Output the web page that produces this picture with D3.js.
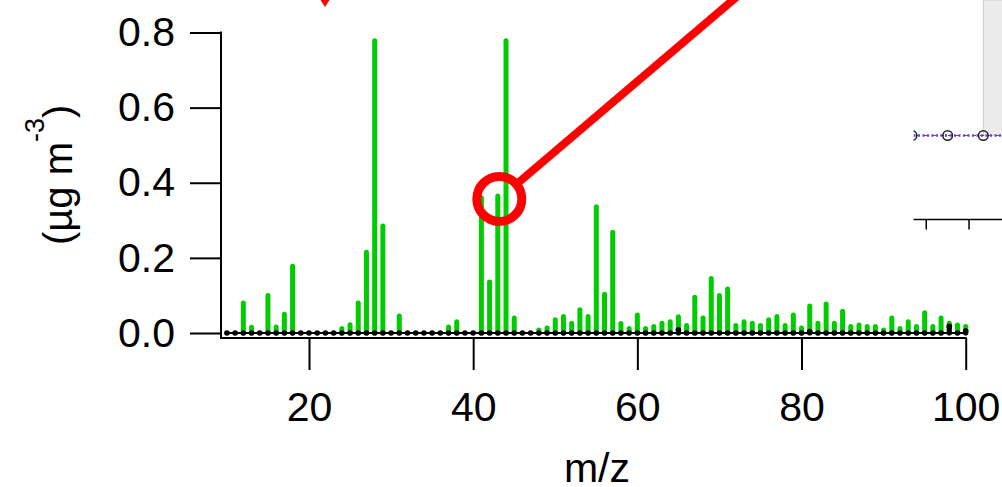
<!DOCTYPE html>
<html>
<head>
<meta charset="utf-8">
<script src="https://cdn.jsdelivr.net/npm/d3@7"></script>
<style>
  html, body { margin: 0; padding: 0; background: #fff; }
  svg { display: block; }
  text { font-family: "Liberation Sans", Arial, sans-serif; fill: #000; }
</style>
</head>
<body>
<svg id="chart" width="1002" height="487"></svg>
<script>
// m/z categories 10..100
const mz = [10,11,12,13,14,15,16,17,18,19,20,21,22,23,24,25,26,27,28,29,30,31,32,33,34,35,36,37,38,39,40,41,42,43,44,45,46,47,48,49,50,51,52,53,54,55,56,57,58,59,60,61,62,63,64,65,66,67,68,69,70,71,72,73,74,75,76,77,78,79,80,81,82,83,84,85,86,87,88,89,90,91,92,93,94,95,96,97,98,99,100];
// green spectrum (µg m-3)
const greenValues = [0,0,0.08,0.015,0,0.10,0.016,0.05,0.178,0,0,0,0,0,0.012,0.022,0.08,0.215,0.778,0.285,0,0.045,0,0,0,0,0,0.016,0.03,0,0,0.36,0.136,0.365,0.778,0.04,0,0,0.008,0.013,0.035,0.044,0.026,0.062,0.044,0.336,0.103,0.268,0.025,0.012,0.048,0.012,0.017,0.026,0.03,0.043,0.02,0.095,0.04,0.145,0.1,0.117,0.02,0.03,0.026,0.02,0.035,0.044,0.02,0.048,0.013,0.072,0.026,0.077,0.026,0.058,0.017,0.021,0.017,0.017,0.008,0.04,0.012,0.03,0.017,0.054,0.017,0.04,0.026,0.021,0.017];
// black spectrum (near zero)
const blackValues = [0,0,0,0,0,0,0,0,0,0,0,0,0,0,0,0,0,0,0,0,0,0,0,0,0,0,0,0,0,0,0,0,0,0,0,0,0,0,0,0,0,0,0,0,0,0,0,0,0,0,0,0,0,0,0,0.008,0,0,0,0,0,0,0,0,0,0,0,0,0,0,0,0.004,0,0,0,0,0,0,0,0,0,0,0,0,0,0,0,0,0.018,0,0.005];
const xTicks = [20,40,60,80,100];
const yTicks = [0,0.2,0.4,0.6,0.8];
// highlighted point (m/z 43)
const highlight = {mz: 43, value: 0.365};
// partial inset on the right edge
const insetIdx = [0,1,2];
const insetVals = [0,0,0];
const insetTicks = [0.4,1.6];

const svg = d3.select("#chart");
const FS = 41;

const x = d3.scaleLinear().domain([20,100]).range([309,965.7]);
const y = d3.scaleLinear().domain([0,0.8]).range([333,32.5]);

// green sticks
svg.append("g").selectAll("line").data(mz.map((m,i)=>({m, v: greenValues[i]})).filter(d=>d.v>0))
  .join("line")
  .attr("x1", d=>x(d.m)).attr("x2", d=>x(d.m))
  .attr("y1", y(0)).attr("y2", d=>y(d.v))
  .attr("stroke", "#00cc00").attr("stroke-width", 5).attr("stroke-linecap", "round");

// black series baseline + sticks + markers
svg.append("path")
  .attr("d", d3.line().x(d=>x(d)).y(y(0))(mz))
  .attr("stroke", "#000").attr("stroke-width", 2).attr("fill", "none");
svg.append("g").selectAll("line").data(mz.map((m,i)=>({m, v: blackValues[i]})).filter(d=>d.v>0))
  .join("line")
  .attr("x1", d=>x(d.m)).attr("x2", d=>x(d.m))
  .attr("y1", y(0)).attr("y2", d=>y(d.v))
  .attr("stroke", "#000").attr("stroke-width", 5).attr("stroke-linecap", "round");
svg.append("g").selectAll("circle").data(mz.map((m,i)=>({m, v: blackValues[i]})))
  .join("circle")
  .attr("cx", d=>x(d.m)).attr("cy", d=>y(d.v)).attr("r", 2.8).attr("fill", "#000");

// axes
const yAxis = svg.append("g").attr("transform", "translate(221,0)")
  .call(d3.axisLeft(y).tickValues(yTicks).tickSize(31).tickPadding(15).tickSizeOuter(0).tickFormat(d3.format(".1f")));
yAxis.select(".domain").remove();
yAxis.selectAll("line").attr("stroke", "#000").attr("stroke-width", 2);
yAxis.selectAll("text").attr("font-size", FS).attr("font-family", "Liberation Sans, Arial, sans-serif");

svg.append("line").attr("x1", 221).attr("x2", 221).attr("y1", y(0.8)-1).attr("y2", 339)
  .attr("stroke", "#000").attr("stroke-width", 2);

const xAxis = svg.append("g").attr("transform", "translate(0,338)")
  .call(d3.axisBottom(x).tickValues(xTicks).tickSize(32).tickPadding(22).tickSizeOuter(0));
xAxis.select(".domain").remove();
xAxis.selectAll("line").attr("stroke", "#000").attr("stroke-width", 2);
xAxis.selectAll("text").attr("font-size", FS).attr("font-family", "Liberation Sans, Arial, sans-serif");
svg.append("line").attr("x1", 220).attr("x2", x(100)+1).attr("y1", 338).attr("y2", 338)
  .attr("stroke", "#000").attr("stroke-width", 2);

// axis titles
svg.append("text").attr("x", 597).attr("y", 482).attr("text-anchor", "middle")
  .attr("font-size", FS).text("m/z");
const yl = svg.append("text").attr("transform", "translate(72,245) rotate(-90)")
  .attr("font-size", 40);
yl.append("tspan").text("(µg m");
yl.append("tspan").attr("font-size", 27).attr("dy", -28).text("-3");
yl.append("tspan").attr("dy", 28).text(")");

// red annotation: circle at highlighted point and a line leaving it
const cx = x(highlight.mz) + 1.5, cy = y(highlight.value) + 3;
const R = 22.5;
const tx = 733, ty = 0;
const ang = Math.atan2(ty - cy, tx - cx);
svg.append("line")
  .attr("x1", cx + R*Math.cos(ang)).attr("y1", cy + R*Math.sin(ang))
  .attr("x2", tx + 8*Math.cos(ang)).attr("y2", ty + 8*Math.sin(ang))
  .attr("stroke", "#ff0000").attr("stroke-width", 8);
svg.append("circle").attr("cx", cx).attr("cy", cy).attr("r", R)
  .attr("fill", "none").attr("stroke", "#ff0000").attr("stroke-width", 9);
// red arrow tip at top
svg.append("path").attr("d", "M320.5,0 L329.5,0 L325,7 Z").attr("fill", "#ff0000");

// partial inset at right edge
const ix = d3.scaleLinear().domain([0,2]).range([912,983.3]);
const iy = d3.scaleLinear().domain([0,1]).range([135.5,0]);
const itx = d3.scaleLinear().domain([0,2]).range([912,983.3]);
svg.append("defs").append("clipPath").attr("id","insetClip")
  .append("rect").attr("x",913.5).attr("y",0).attr("width",100).attr("height",240);
const ig = svg.append("g").attr("clip-path","url(#insetClip)");
ig.append("rect").attr("x", 983.3).attr("y", 0).attr("width", 20).attr("height", iy(0))
  .attr("fill", "#ebebeb").attr("stroke", "#cfcfcf").attr("stroke-width", 1);
ig.append("line").attr("x1", 900).attr("x2", 1002).attr("y1", iy(0)).attr("y2", iy(0))
  .attr("stroke", "#d22").attr("stroke-width", 1.2).attr("stroke-dasharray", "4,4");
ig.append("line").attr("x1", 900).attr("x2", 1002).attr("y1", iy(0)).attr("y2", iy(0))
  .attr("stroke", "#4a4aff").attr("stroke-width", 2.5).attr("stroke-dasharray", "2,2.5");
ig.selectAll("circle").data(insetIdx).join("circle")
  .attr("cx", d=>ix(d)).attr("cy", (d,i)=>iy(insetVals[i])).attr("r", 4.8)
  .attr("fill", "none").attr("stroke", "#222").attr("stroke-width", 1.5);
ig.append("line").attr("x1", 913).attr("x2", 1002).attr("y1", 219.5).attr("y2", 219.5)
  .attr("stroke", "#000").attr("stroke-width", 1.5);
ig.selectAll(".itick").data(insetTicks).join("line").attr("class","itick")
  .attr("x1", d=>itx(d)).attr("x2", d=>itx(d)).attr("y1", 219.5).attr("y2", 229.5)
  .attr("stroke", "#000").attr("stroke-width", 1.5);
</script>
</body>
</html>
